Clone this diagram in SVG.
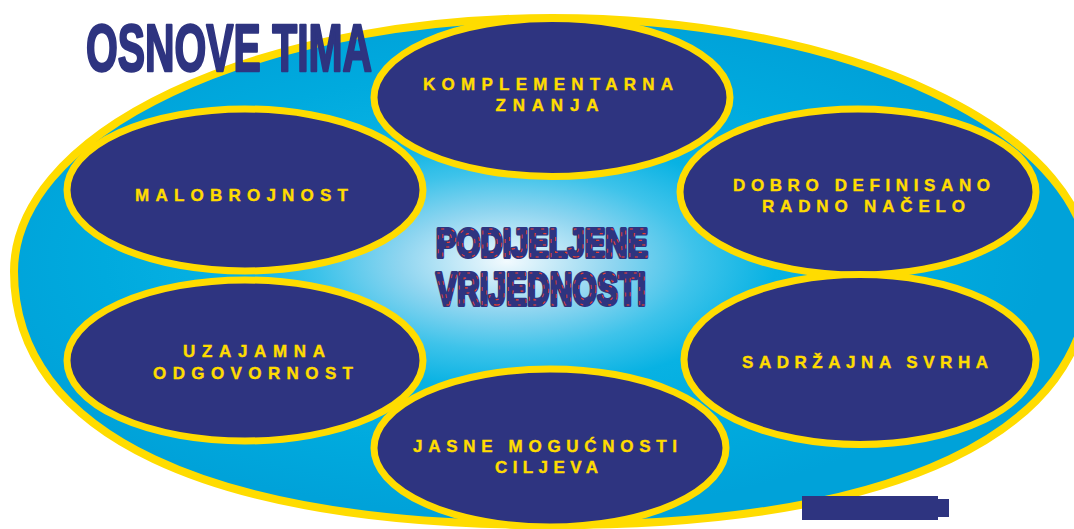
<svg xmlns="http://www.w3.org/2000/svg" width="1074" height="529" viewBox="0 0 1074 529">
  <defs>
    <radialGradient id="glow" cx="0.458" cy="0.48" r="0.5">
      <stop offset="0" stop-color="#F2FAFE"/>
      <stop offset="0.2" stop-color="#8ED5F0"/>
      <stop offset="0.35" stop-color="#3EC3EA"/>
      <stop offset="0.5" stop-color="#08B2E3"/>
      <stop offset="0.75" stop-color="#00AADE"/>
      <stop offset="1" stop-color="#00A2D9"/>
    </radialGradient>
  </defs>
  <style>
    .node { fill: #2E3480; stroke: #FFDC00; stroke-width: 7; }
    .lbl { font-family: "Liberation Sans", Arial, sans-serif; font-weight: bold; font-size: 17px; fill: #FFDC00; stroke: #FFDC00; stroke-width: 0.4; text-anchor: middle; }
    .title { font-family: "Liberation Sans", Arial, sans-serif; font-weight: bold; font-size: 67px; fill: #2E3480; stroke: #2E3480; stroke-width: 2.5; stroke-linejoin: round; }
    .core { font-family: "Liberation Sans", Arial, sans-serif; font-weight: bold; fill: #2E3480; stroke: #2E3480; stroke-width: 4; stroke-linejoin: round; }
    .coreline { font-family: "Liberation Sans", Arial, sans-serif; font-weight: bold; fill: none; stroke: #E8412C; stroke-width: 1.2; stroke-dasharray: 4 10; }
  </style>

  <g id="background">
    <path d="M 14 271.5 A 538 253.5 0 0 1 1090 271.5 C 1090 433.7 896.3 525 552 525 C 207.7 525 14 433.7 14 271.5 Z" fill="url(#glow)" stroke="#FFDC00" stroke-width="8"/>
  </g>

  <g id="connectors"></g>

  <g id="node-komplementarna">
    <ellipse class="node" cx="552" cy="97.5" rx="178" ry="79"/>
    <text class="lbl" x="548" y="90" textLength="250" lengthAdjust="spacing">KOMPLEMENTARNA</text>
    <text class="lbl" x="547" y="111" textLength="103" lengthAdjust="spacing">ZNANJA</text>
  </g>

  <g id="node-malobrojnost">
    <ellipse class="node" cx="245" cy="190" rx="178" ry="81"/>
    <text class="lbl" x="241.5" y="201" textLength="213" lengthAdjust="spacing">MALOBROJNOST</text>
  </g>

  <g id="node-dobro">
    <ellipse class="node" cx="858" cy="192" rx="178" ry="83"/>
    <text class="lbl" x="861.5" y="191" textLength="257" lengthAdjust="spacing">DOBRO DEFINISANO</text>
    <text class="lbl" x="863.5" y="212" textLength="203" lengthAdjust="spacing">RADNO NAČELO</text>
  </g>

  <g id="node-uzajamna">
    <ellipse class="node" cx="245" cy="360.5" rx="178" ry="80.5"/>
    <text class="lbl" x="254" y="357" textLength="142" lengthAdjust="spacing">UZAJAMNA</text>
    <text class="lbl" x="253" y="379" textLength="200" lengthAdjust="spacing">ODGOVORNOST</text>
  </g>

  <g id="node-sadrzajna">
    <ellipse class="node" cx="860" cy="359.5" rx="176" ry="85"/>
    <text class="lbl" x="865" y="368" textLength="246" lengthAdjust="spacing">SADRŽAJNA SVRHA</text>
  </g>

  <g id="node-jasne">
    <ellipse class="node" cx="550" cy="448" rx="176" ry="79"/>
    <text class="lbl" x="545" y="452" textLength="264" lengthAdjust="spacing">JASNE MOGUĆNOSTI</text>
    <text class="lbl" x="546.5" y="473" textLength="103" lengthAdjust="spacing">CILJEVA</text>
  </g>

  <g id="center-title">
    <text class="core" x="436" y="257" font-size="41" textLength="212" lengthAdjust="spacingAndGlyphs">PODIJELJENE</text>
    <text class="core" x="436" y="305" font-size="46" textLength="210" lengthAdjust="spacingAndGlyphs">VRIJEDNOSTI</text>
    <text class="coreline" x="436" y="257" font-size="41" textLength="212" lengthAdjust="spacingAndGlyphs">PODIJELJENE</text>
    <text class="coreline" x="436" y="305" font-size="46" textLength="210" lengthAdjust="spacingAndGlyphs">VRIJEDNOSTI</text>
  </g>

  <g id="heading">
    <text class="title" transform="translate(86,71) scale(0.61,1)" x="0" y="0">OSNOVE TIMA</text>
  </g>

  <g id="footer-mark">
    <rect x="802" y="496" width="136" height="24" fill="#2E3480"/>
    <rect x="938" y="499" width="11" height="18" fill="#2E3480"/>
  </g>
</svg>
